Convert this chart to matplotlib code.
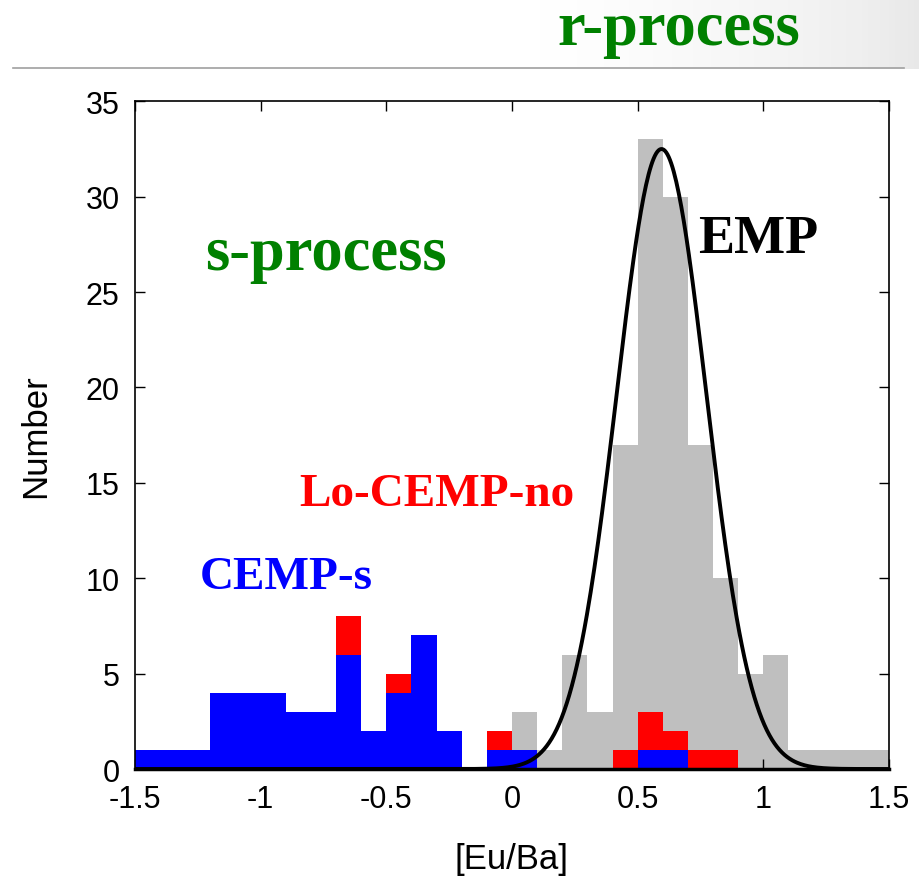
import numpy as np
import matplotlib
matplotlib.use("Agg")
import matplotlib.pyplot as plt

# bin left edges, 0.1 wide from -1.5 to 1.5
bin_left = np.round(np.arange(-1.5, 1.5, 0.1), 2)

# EMP (gray), CEMP-s (blue), Lo-CEMP-no (red, stacked on blue)
emp = [0, 0, 0, 0, 0, 0, 0, 0, 0, 0, 0, 0, 0, 0, 0,
       3, 1, 6, 3, 17, 33, 30, 17, 10, 5, 6, 1, 1, 1, 1]
cemp_s = [1, 1, 1, 4, 4, 4, 3, 3, 6, 2, 4, 7, 2, 0, 1,
          1, 0, 0, 0, 0, 1, 1, 0, 0, 0, 0, 0, 0, 0, 0]
lo_cemp_no = [0, 0, 0, 0, 0, 0, 0, 0, 2, 0, 1, 0, 0, 0, 1,
              0, 0, 0, 0, 1, 2, 1, 1, 1, 0, 0, 0, 0, 0, 0]

# gaussian fit to EMP distribution
fit_mu = 0.595
fit_sigma = 0.178
fit_amp = 32.5

fig = plt.figure(figsize=(9.2, 8.79), dpi=100)

# slide background: light gray fade at top right
bg = fig.add_axes([0, 0.92, 1, 0.08], zorder=-5)
grad = np.linspace(0, 1, 300)
grad = np.clip((grad - 0.55) / 0.45, 0, 1) ** 1.5
bg.imshow(np.vstack([grad, grad]), aspect="auto", cmap="Greys", vmin=0, vmax=6,
          extent=[0, 1, 0, 1])
bg.set_xlim(0, 1)
bg.set_ylim(0, 1)
bg.axis("off")

fig.add_artist(plt.Line2D([0.014, 0.983], [0.921, 0.921], color="#a0a0a0", lw=1.2))
fig.text(0.738, 0.966, "r-process", color="#008000", fontsize=45, fontweight="bold",
         family="Liberation Serif", ha="center", va="center")

ax = fig.add_axes([0.1467, 0.1240, 0.8196, 0.7596])

w = 0.1
ax.bar(bin_left, emp, width=w, align="edge", color="#bfbfbf", lw=0, zorder=1)
ax.bar(bin_left, cemp_s, width=w, align="edge", color="#0000ff", lw=0, zorder=2)
ax.bar(bin_left, lo_cemp_no, width=w, align="edge", bottom=cemp_s,
       color="#ff0000", lw=0, zorder=2)

xs = np.linspace(-1.5, 1.5, 600)
ax.plot(xs, fit_amp * np.exp(-0.5 * ((xs - fit_mu) / fit_sigma) ** 2),
        color="black", lw=2.8, zorder=3)

ax.set_xlim(-1.5, 1.5)
ax.set_ylim(0, 35)
ax.set_xticks([-1.5, -1, -0.5, 0, 0.5, 1, 1.5])
ax.set_xticklabels(["-1.5", "-1", "-0.5", "0", "0.5", "1", "1.5"])
ax.set_yticks(range(0, 36, 5))
ax.tick_params(direction="in", top=True, right=True, length=7, width=1,
               labelsize=22, pad=11)
for lab in ax.get_xticklabels() + ax.get_yticklabels():
    lab.set_family("Liberation Sans")
for side in ["left", "right", "top"]:
    ax.spines[side].set_linewidth(1.2)
ax.spines["bottom"].set_linewidth(2.5)

ax.set_xlabel("[Eu/Ba]", fontsize=25, family="Liberation Sans", labelpad=20)
ax.set_ylabel("Number", fontsize=25, family="Liberation Sans", labelpad=24)

serif = "Liberation Serif"
ax.text(-1.222, 27.0, "s-process", color="#008000", fontsize=45, fontweight="bold",
        family=serif, va="center")
ax.text(0.74, 27.8, "EMP", color="black", fontsize=39, fontweight="bold",
        family=serif, va="center")
ax.text(-0.845, 14.4, "Lo-CEMP-no", color="#ff0000", fontsize=34, fontweight="bold",
        family=serif, va="center")
ax.text(-1.243, 10.05, "CEMP-s", color="#0000ff", fontsize=34, fontweight="bold",
        family=serif, va="center")

fig.savefig("out.png", dpi=100)
